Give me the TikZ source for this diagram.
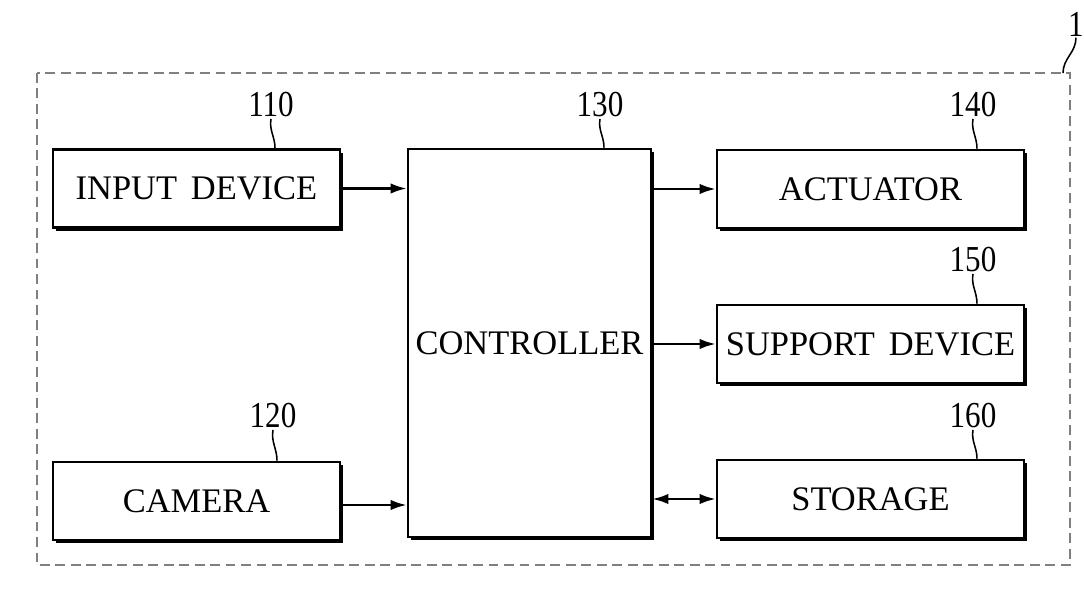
\documentclass[tikz,border=0pt]{standalone}
\usepackage{fontspec}
\setmainfont{Liberation Serif}
\usetikzlibrary{arrows.meta,positioning,shadows,calc}
\tikzset{
  block/.style={draw,line width=1.9pt,fill=white,minimum height=1.95cm,inner sep=0pt,align=center,
    font=\fontsize{24.5}{28}\selectfont,
    drop shadow={shadow xshift=2.2pt,shadow yshift=-2.2pt,fill=black,opacity=1}},
  refnum/.style={font=\fontsize{26}{29}\selectfont,inner sep=1pt,xscale=0.85},
  leader/.style={line width=1.1pt},
  arrow/.style={-{Latex[length=4mm,width=2.6mm]},line width=1.6pt},
  biarrow/.style={{Latex[length=4mm,width=2.6mm]}-{Latex[length=4mm,width=2.6mm]},line width=1.6pt},
  frame/.style={dash pattern=on 7pt off 4pt,gray,line width=0.9pt}
}

\begin{document}
\begin{tikzpicture}[x=0.025cm,y=-0.025cm]
  \useasboundingbox (0,0) rectangle (1084,589);

  % outer frame
  \draw[frame] (37,73) rectangle (1070,565);
  \coordinate (fr) at (1063,73);
  \node[refnum] (l1) at (1076,24) {1};

  % blocks
  \node[block,minimum width=7.175cm] (in110) at (196.5,188.5) {INPUT\hspace{0.4em}DEVICE};
  \node[block,minimum width=7.175cm] (cam120) at (196.5,501) {CAMERA};
  \node[block,minimum width=6.075cm,minimum height=9.7cm] (ctl130) at (529.5,343) {CONTROLLER};
  \node[block,minimum width=7.675cm] (act140) at (870.5,189) {ACTUATOR};
  \node[block,minimum width=7.675cm] (sup150) at (870.5,344) {SUPPORT\hspace{0.4em}DEVICE};
  \node[block,minimum width=7.675cm] (sto160) at (870.5,499) {STORAGE};

  % reference numerals
  \node[refnum] (l110) at (271,105) {110};
  \node[refnum] (l120) at (273,416) {120};
  \node[refnum] (l130) at (600,105) {130};
  \node[refnum] (l140) at (973,105) {140};
  \node[refnum] (l150) at (973,260) {150};
  \node[refnum] (l160) at (973,416) {160};

  \draw[leader] (l1.south) to[out=-90,in=90] (fr);
  \draw[leader] (l110.south) to[out=-100,in=90] ($(l110.south |- in110.north)+(4,0)$);
  \draw[leader] (l120.south) to[out=-100,in=90] ($(l120.south |- cam120.north)+(4,0)$);
  \draw[leader] (l130.south) to[out=-100,in=90] ($(l130.south |- ctl130.north)+(4,0)$);
  \draw[leader] (l140.south) to[out=-100,in=90] ($(l140.south |- act140.north)+(4,0)$);
  \draw[leader] (l150.south) to[out=-100,in=90] ($(l150.south |- sup150.north)+(4,0)$);
  \draw[leader] (l160.south) to[out=-100,in=90] ($(l160.south |- sto160.north)+(4,0)$);

  % signal flow
  \draw[arrow] (in110.east) -- (in110.east -| ctl130.west);
  \draw[arrow] ([yshift=-1mm]cam120.east) -- ([yshift=-1mm]cam120.east -| ctl130.west);
  \draw[arrow] (ctl130.east |- act140) -- (act140.west);
  \draw[arrow] (ctl130.east |- sup150) -- (sup150.west);
  \draw[biarrow] (ctl130.east |- sto160) -- (sto160.west);
\end{tikzpicture}
\end{document}
